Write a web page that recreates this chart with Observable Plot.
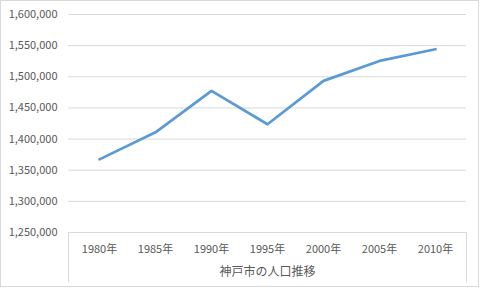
<!DOCTYPE html>
<html>
<head>
<meta charset="utf-8">
<script src="https://cdn.jsdelivr.net/npm/d3@7"></script>
<script src="https://cdn.jsdelivr.net/npm/@observablehq/plot@0.6"></script>
<style>
  html, body { margin: 0; padding: 0; background: #fff; }
  #chart svg { display: block; }
</style>
</head>
<body>
<div id="chart"></div>
<script>
const years = ["1980年", "1985年", "1990年", "1995年", "2000年", "2005年", "2010年"];
const population = [1367390, 1410834, 1477410, 1423792, 1493398, 1525393, 1544200];
const yTicks = [1250000, 1300000, 1350000, 1400000, 1450000, 1500000, 1550000, 1600000];
const axisTitle = "神戸市の人口推移";

const data = years.map((y, i) => ({year: y, value: population[i]}));
const font = "'Noto Sans CJK JP', 'Noto Sans', sans-serif";
const textColor = "#595959";
const lineGrey = "#d9d9d9";

const plot = Plot.plot({
  width: 480,
  height: 288,
  marginLeft: 68,
  marginRight: 14,
  marginTop: 14,
  marginBottom: 56,
  style: {fontFamily: font, fontSize: "11px", color: textColor, background: "#fff"},
  x: {type: "point", domain: years, padding: 0.5, label: null},
  y: {domain: [1250000, 1600000], label: null},
  marks: [
    Plot.gridY(yTicks, {stroke: lineGrey, strokeOpacity: 1, strokeWidth: 1}),
    Plot.axisY(yTicks, {tickSize: 0, tickPadding: 11, tickFormat: d3.format(","), fill: textColor, fontSize: 11, label: null}),
    Plot.axisX({tickSize: 0, tickPadding: 13, fill: textColor, fontSize: 11, label: null}),
    Plot.lineY(data, {x: "year", y: "value", stroke: "#5b9bd5", strokeWidth: 2.75, strokeLinejoin: "round", strokeLinecap: "round"}),
    Plot.text([axisTitle], {frameAnchor: "bottom", dy: 40, fill: textColor, fontSize: 12, lineAnchor: "middle"})
  ]
});

document.getElementById("chart").appendChild(plot);

// category-axis box lines and chart border, positioned from the plot's own scales
const svg = d3.select(plot);
const xr = plot.scale("x").range;
const yBase = plot.scale("y").apply(1250000);
const g = svg.insert("g", ":first-child");
g.append("rect")
  .attr("x", 0.5).attr("y", 0.5)
  .attr("width", 478).attr("height", 286)
  .attr("fill", "none").attr("stroke", lineGrey);
[xr[0], xr[1]].forEach(x => {
  svg.append("line")
    .attr("x1", Math.round(x) + 0.5).attr("x2", Math.round(x) + 0.5)
    .attr("y1", yBase).attr("y2", 282)
    .attr("stroke", lineGrey);
});
</script>
</body>
</html>
